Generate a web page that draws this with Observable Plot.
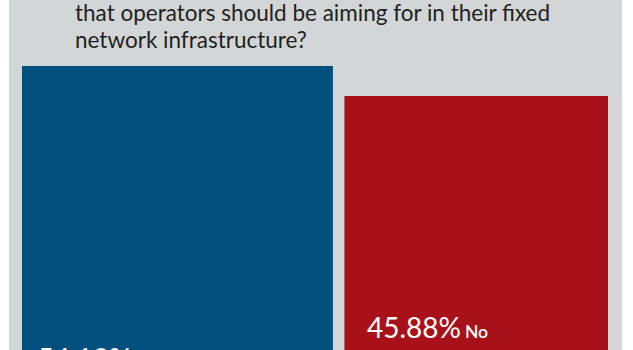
<!DOCTYPE html>
<html>
<head>
<meta charset="utf-8">
<script src="https://cdn.jsdelivr.net/npm/d3@7"></script>
<script src="https://cdn.jsdelivr.net/npm/@observablehq/plot@0.6"></script>
<style>
  html, body { margin: 0; padding: 0; background: #fff; }
  #wrap { position: relative; width: 633px; height: 350px; overflow: hidden; background: #fff; font-family: Lato, "Open Sans", sans-serif; }
  #panel { position: absolute; left: 9px; top: 0; width: 613px; height: 350px; background: #d3d6d7; }
  #title { position: absolute; left: 75px; top: -1px; font-size: 22.5px; line-height: 27px; color: #231f20; white-space: nowrap; }
  #chart { position: absolute; left: 0; top: 60px; width: 633px; height: 290px; overflow: hidden; }
  #chart svg { overflow: hidden; }
</style>
</head>
<body>
<div id="wrap">
  <div id="panel"></div>
  <div id="title"></div>
  <div id="chart"></div>
</div>
<script>
// ---- data ----
const titleLines = [
  "that operators should be aiming for in their fixed",
  "network infrastructure?"
];
const categories = ["Yes", "No"];
const values = [54.12, 45.88];
const colors = ["#03507f", "#a8111a"];

// ---- title ----
document.getElementById("title").innerHTML = titleLines.map(t => `<div>${t}</div>`).join("");

// ---- build table (bars sit side by side, width proportional to share) ----
const gap = 2;
let acc = 0;
const data = categories.map((c, i) => {
  const x1 = acc;
  const x2 = acc + values[i];
  acc = x2 + gap;
  return {category: c, value: values[i], x1, x2, color: colors[i], pct: values[i].toFixed(2) + "%"};
});

const yMin = -23.884, yMax = 55.768;

const chart = Plot.plot({
  width: 633,
  height: 290,
  marginTop: 0, marginBottom: 0, marginLeft: 0, marginRight: 0,
  style: {background: "transparent", fontFamily: "Lato, 'Open Sans', sans-serif", overflow: "hidden"},
  x: {type: "linear", domain: [0, 100 + gap], range: [22, 608], axis: null},
  y: {type: "linear", domain: [yMin, yMax], range: [290, 0], axis: null},
  marks: [
    Plot.rect(data, {x1: "x1", x2: "x2", y1: yMin, y2: "value", fill: "color"}),
    // percentage labels
    Plot.text(data.filter(d => d.category === "Yes"), {x: "x1", y: yMin, text: "pct", fill: "white", fontSize: 28, textAnchor: "start", lineAnchor: "bottom", dx: 15, dy: 18}),
    Plot.text(data.filter(d => d.category === "No"), {x: "x1", y: yMin, text: "pct", fill: "white", fontSize: 28, textAnchor: "start", lineAnchor: "bottom", dx: 22, dy: -13}),
    // category words
    Plot.text(data.filter(d => d.category === "Yes"), {x: "x1", y: yMin, text: "category", fill: "white", fontSize: 17.5, fontWeight: 600, textAnchor: "start", lineAnchor: "bottom", dx: 113, dy: 18}),
    Plot.text(data.filter(d => d.category === "No"), {x: "x1", y: yMin, text: "category", fill: "white", fontSize: 17.5, fontWeight: 600, textAnchor: "start", lineAnchor: "bottom", dx: 120, dy: -13})
  ]
});
document.getElementById("chart").appendChild(chart);
</script>
</body>
</html>
